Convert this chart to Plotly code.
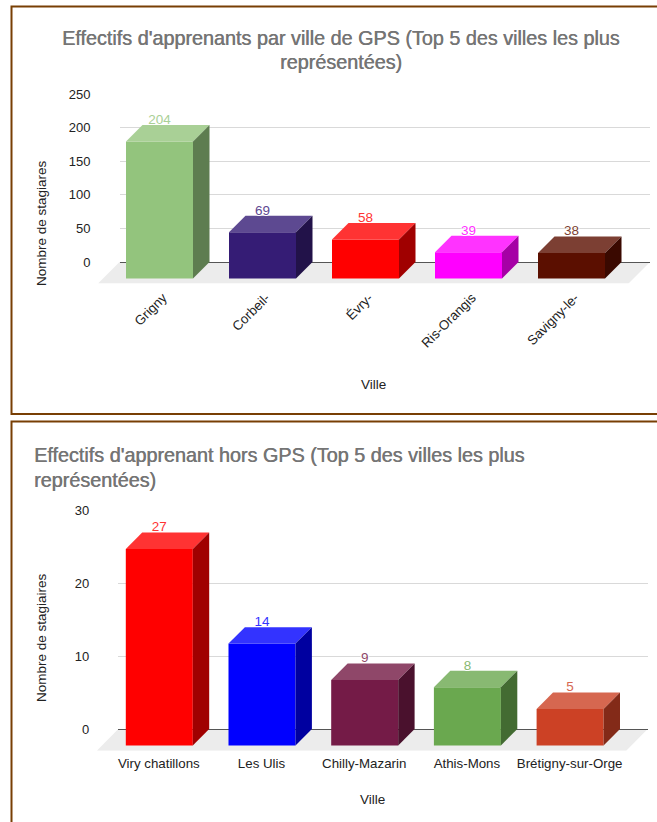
import plotly.graph_objects as go

# ---- data ----
gps_villes = ["Grigny", "Corbeil-", "Évry-", "Ris-Orangis", "Savigny-le-"]
gps_effectifs = [204, 69, 58, 39, 38]
hors_villes = ["Viry chatillons", "Les Ulis", "Chilly-Mazarin", "Athis-Mons", "Brétigny-sur-Orge"]
hors_effectifs = [27, 14, 9, 8, 5]
gps_ticks = [0, 50, 100, 150, 200, 250]
hors_ticks = [0, 10, 20, 30]

# ---- styles ----
gps_front = ["#93c47d", "#351c75", "#ff0000", "#ff00ff", "#5b0f00"]
gps_top = ["#a9d096", "#5d4991", "#ff3333", "#ff33ff", "#7c3f33"]
gps_side = ["#5e7d50", "#221249", "#a00000", "#a600a6", "#3a0900"]
gps_label = ["#a9d096", "#5d4991", "#ff3333", "#ff33ff", "#7c3f33"]
hors_front = ["#ff0000", "#0000ff", "#741b47", "#6aa84f", "#cc4125"]
hors_top = ["#ff3333", "#3333ff", "#8f4769", "#88b972", "#d66750"]
hors_side = ["#a00000", "#0000a0", "#4a112d", "#436b32", "#832a18"]
hors_label = ["#ff3333", "#3333ff", "#8f4769", "#88b972", "#d66750"]

W, H = 657, 822
FONT = "Liberation Sans"
HALO = "white 1px 0 0, white -1px 0 0, white 0 1px 0, white 0 -1px 0"
FLOOR_SHIFT = 21.5
LABEL_GAP = 4.5
fig = go.Figure()


def add_panel(suffix, cats, vals, ticks, front, top, side, label,
              px_left, px_right, px_top, px_bottom, px_zero, px_first, px_step,
              bar_px, depth_px, label_shift, tickangle):
    xa = "x" + suffix
    ya = "y" + suffix
    unit_y = (px_zero - px_top) / ticks[-1]
    dx = depth_px / px_step
    dy = depth_px / unit_y
    half = bar_px / px_step / 2
    x_range = [(px_left - px_first) / px_step, (px_right - px_first) / px_step]
    y_range = [-(px_bottom - px_zero) / unit_y, ticks[-1]]
    n = len(vals)
    idx = list(range(n))
    fig.add_trace(go.Bar(
        x=[i - dx for i in idx], y=vals, base=[-dy] * n, width=bar_px / px_step,
        marker=dict(color=front, line=dict(width=0)), xaxis=xa, yaxis=ya,
        showlegend=False, hoverinfo="skip"))
    for i, v in enumerate(vals):
        fig.add_trace(go.Scatter(
            x=[i - dx - half, i - half, i + half, i - dx + half, i - dx - half],
            y=[v - dy, v, v, v - dy, v - dy],
            fill="toself", fillcolor=top[i], mode="lines", line=dict(width=0),
            xaxis=xa, yaxis=ya, showlegend=False, hoverinfo="skip"))
        fig.add_trace(go.Scatter(
            x=[i - dx + half, i + half, i + half, i - dx + half, i - dx + half],
            y=[v - dy, v, 0, -dy, v - dy],
            fill="toself", fillcolor=side[i], mode="lines", line=dict(width=0),
            xaxis=xa, yaxis=ya, showlegend=False, hoverinfo="skip"))
    fig.add_trace(go.Scatter(
        x=[i - dx for i in idx], y=[v + LABEL_GAP / unit_y for v in vals],
        mode="text", text=[str(v) for v in vals],
        textposition="middle center",
        textfont=dict(family=FONT, size=13.5, color=label, shadow=HALO),
        xaxis=xa, yaxis=ya, showlegend=False, hoverinfo="skip"))
    # floor, horizontally in page units because it overhangs the plot area on the left
    path = "M {} 0 L {} 0 L {} {} L {} {} Z".format(
        px_left / W, px_right / W, (px_right - FLOOR_SHIFT) / W, y_range[0],
        (px_left - FLOOR_SHIFT) / W, y_range[0])
    fig.add_shape(type="path", path=path, xref="paper", yref=ya, layer="below",
                  fillcolor="#ececec", line=dict(width=0))
    fig.update_layout(**{
        ("xaxis" + suffix): dict(
            domain=[px_left / W, px_right / W], range=x_range, automargin=False,
            tickmode="array", tickvals=[i - dx + label_shift / px_step for i in idx],
            ticktext=cats, tickangle=tickangle, showgrid=False, zeroline=False,
            showline=False, ticks="", anchor=ya, ticklabelstandoff=3,
            tickfont=dict(family=FONT, size=13.3, color="#222222")),
        ("yaxis" + suffix): dict(
            domain=[1 - px_bottom / H, 1 - px_top / H], range=y_range, automargin=False,
            tickmode="array", tickvals=ticks, showgrid=True, gridcolor="#d9d9d9",
            gridwidth=1.2, zeroline=True, zerolinecolor="#555555", zerolinewidth=1,
            showline=False, ticks="", ticklabelstandoff=28, anchor=xa,
            tickfont=dict(family=FONT, size=13, color="#222222")),
    })


add_panel("", gps_villes, gps_effectifs, gps_ticks, gps_front, gps_top, gps_side, gps_label,
          119.5, 650, 94, 283.5, 262, 176, 103, 67, 16.5, 3.5, -45)
add_panel("2", hors_villes, hors_effectifs, hors_ticks, hors_front, hors_top, hors_side, hors_label,
          118.3, 647.7, 510.7, 750.7, 729, 175.7, 102.7, 67, 16.4, -0.5, 0)


def note(text, px, py, size=13.5, color="#222222", angle=0, anchor="center", shadow=None):
    font = dict(family=FONT, size=size, color=color)
    if shadow:
        font["shadow"] = shadow
    fig.add_annotation(text=text, xref="paper", yref="paper", x=px / W, y=1 - py / H,
                       showarrow=False, xanchor=anchor, yanchor="middle", textangle=angle,
                       font=font)


TITLE = "#757575"
BOLDEN = "0.4px 0 0 #757575"
note("Effectifs d'apprenants par ville de GPS (Top 5 des villes les plus", 341, 38, 19.8, TITLE, shadow=BOLDEN)
note("représentées)", 341, 62, 19.8, TITLE, shadow=BOLDEN)
note("Effectifs d'apprenant hors GPS (Top 5 des villes les plus", 31.5, 455, 19.8, TITLE, anchor="left", shadow=BOLDEN)
note("représentées)", 31.5, 479.5, 19.8, TITLE, anchor="left", shadow=BOLDEN)
note("Nombre de stagiares", 41, 223, angle=-90)
note("Nombre de stagiaires", 41, 638, angle=-90)
note("Ville", 373.5, 385)
note("Ville", 372, 799)

# panel frames
BORDER = "#783f04"
for x0, y0, x1, y1 in [(11.5, 6.5, 670, 414), (11.5, 421.5, 670, 840)]:
    fig.add_shape(type="rect", xref="paper", yref="paper",
                  x0=x0 / W, x1=x1 / W, y0=1 - y1 / H, y1=1 - y0 / H,
                  line=dict(color=BORDER, width=2), fillcolor="rgba(0,0,0,0)", layer="above")

fig.update_layout(width=W, height=H, autosize=False,
                  margin=dict(l=0, r=0, t=0, b=0), paper_bgcolor="white",
                  plot_bgcolor="rgba(0,0,0,0)", barmode="overlay", showlegend=False)
fig.write_html("out.html", config={"displayModeBar": False},
               post_script="document.body.style.margin='0';document.body.style.overflow='hidden';")
